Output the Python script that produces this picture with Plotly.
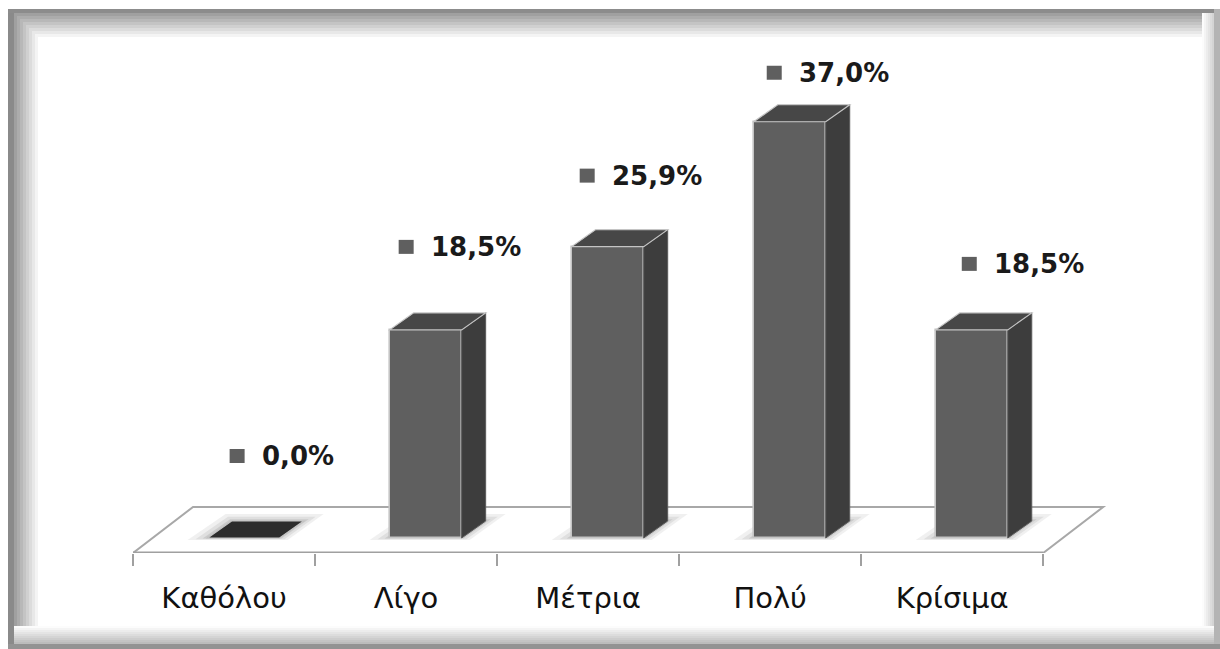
import plotly.graph_objects as go

# --- data -------------------------------------------------------------
categories = ["Καθόλου", "Λίγο", "Μέτρια", "Πολύ", "Κρίσιμα"]
values = [0.0, 18.5, 25.9, 37.0, 18.5]

# --- canvas / geometry ------------------------------------------------
FIG_W, FIG_H = 1220, 649
M_L, M_R, M_T, M_B = 133, 104, 40, 96
X_RANGE = [-0.5, 4.9]
PLOT_W = FIG_W - M_L - M_R
PLOT_H = FIG_H - M_T - M_B
PX_PER_CAT = PLOT_W / (X_RANGE[1] - X_RANGE[0])
PX_PER_PCT = 11.25
Y_MIN = -15 / PX_PER_PCT                  # floor front edge sits below the bar bases
Y_RANGE = [Y_MIN, Y_MIN + PLOT_H / PX_PER_PCT]

BAR_W = 72 / PX_PER_CAT                   # front face width
BAR_SHIFT = 19.6 / PX_PER_CAT             # bars sit a little way back on the floor
BAR_OFFSET = BAR_SHIFT - BAR_W / 2
DEPTH_X = 24 / PX_PER_CAT                 # bar depth (oblique projection)
DEPTH_Y = 17 / PX_PER_PCT
FLOOR_DX = 60 / PX_PER_CAT                # floor depth
FLOOR_DY = 46 / PX_PER_PCT

FRONT = "#5f5f5f"
SIDE = "#3d3d3d"
TOP = "#474747"
TOP_ZERO = "#2c2c2c"
EDGE = "#c4c4c4"

# data-label placement tweaks (pixels, relative to the bar's front-top centre)
label_dx_px = [19, 6, 5, 10, 23]
label_dy_px = [82, 83, 71, 49, 66]


def poly(pts):
    return "M " + " L ".join(f"{x:.4f},{y:.4f}" for x, y in pts) + " Z"


def px_x(p):
    return (p - M_L) / PLOT_W


def px_y(p):
    return (FIG_H - M_B - p) / PLOT_H


fig = go.Figure()

fig.add_trace(go.Bar(
    x=categories, y=values,
    width=BAR_W, offset=BAR_OFFSET,
    marker=dict(color=FRONT, line=dict(color=EDGE, width=1.6)),
    hoverinfo="x+y",
))

shapes = []

# floor
shapes.append(dict(
    type="path", layer="below", xref="x", yref="y",
    path=poly([(-0.5, Y_MIN), (4.5, Y_MIN), (4.5 + FLOOR_DX, Y_MIN + FLOOR_DY),
               (-0.5 + FLOOR_DX, Y_MIN + FLOOR_DY)]),
    fillcolor="white", line=dict(color="#a8a8a8", width=2),
))
shapes.append(dict(
    type="line", layer="below", xref="x", yref="y",
    x0=-0.5, x1=4.5, y0=Y_MIN, y1=Y_MIN,
    line=dict(color="#a0a0a0", width=3),
))

# soft shadows under each bar
for i, v in enumerate(values):
    x0 = i + BAR_OFFSET
    x1 = x0 + BAR_W
    for grow, op in [(20, 0.10), (12, 0.13), (5, 0.18)]:
        gx = grow / PX_PER_CAT
        gy = grow * 0.35 / PX_PER_PCT
        shapes.append(dict(
            type="path", layer="below", xref="x", yref="y",
            path=poly([(x0 - gx, -gy * 0.3), (x1 + gx * 0.4, -gy * 0.3),
                       (x1 + DEPTH_X + gx, DEPTH_Y + gy), (x0 + DEPTH_X - gx * 0.3, DEPTH_Y + gy)]),
            fillcolor="#707070", opacity=op, line=dict(width=0),
        ))

# side and top faces
for i, v in enumerate(values):
    x0 = i + BAR_OFFSET
    x1 = x0 + BAR_W
    if v > 0:
        shapes.append(dict(
            type="path", xref="x", yref="y",
            path=poly([(x1, 0), (x1, v), (x1 + DEPTH_X, v + DEPTH_Y), (x1 + DEPTH_X, DEPTH_Y)]),
            fillcolor=SIDE, line=dict(color="#5a5a5a", width=1),
        ))
    shapes.append(dict(
        type="path", xref="x", yref="y",
        path=poly([(x0, v), (x1, v), (x1 + DEPTH_X, v + DEPTH_Y), (x0 + DEPTH_X, v + DEPTH_Y)]),
        fillcolor=TOP if v > 0 else TOP_ZERO, line=dict(color=EDGE, width=1.2),
    ))

# data labels: small key square + value text
annotations = []
for i, v in enumerate(values):
    cx = i + BAR_SHIFT
    tx = label_dx_px[i]
    ty = label_dy_px[i]
    annotations.append(dict(
        x=cx, y=v, xref="x", yref="y",
        text=f"{v:.1f}".replace(".", ",") + "%",
        showarrow=False, xanchor="left", yanchor="middle",
        xshift=tx - 3, yshift=ty,
        font=dict(family="DejaVu Sans", size=26, color="#1a1a1a", weight="bold"),
    ))
    shapes.append(dict(
        type="rect", xref="x", yref="y",
        xsizemode="pixel", ysizemode="pixel", xanchor=cx, yanchor=v,
        x0=tx - 33, x1=tx - 18, y0=ty - 7, y1=ty + 7,
        fillcolor="#5f5f5f", line=dict(width=0),
    ))

# chart-area frame with an inner shadow
def band(x0, x1, y0, y1, color):
    shapes.append(dict(
        type="rect", xref="paper", yref="paper", layer="above",
        x0=px_x(x0), x1=px_x(x1), y0=px_y(y0), y1=px_y(y1),
        fillcolor=color, line=dict(width=0),
    ))

# left edge
band(8, 14, 9, FIG_H, "#8a8a8a")
for k, g in enumerate(range(160, 256, 12)):
    band(14 + k * 3, 17 + k * 3, 14, FIG_H, f"rgb({g},{g},{g})")
# top edge
band(8, FIG_W, 9, 13, "#8c8c8c")
for k, g in enumerate(range(160, 256, 12)):
    band(14 + k * 3, FIG_W - 6, 13 + k * 3, 16 + k * 3, f"rgb({g},{g},{g})")
# right edge
for k, g in enumerate(range(252, 205, -8)):
    band(1202 + k * 2, 1204 + k * 2, 13, FIG_H, f"rgb({g},{g},{g})")
band(1214, FIG_W, 9, FIG_H, "#b4b4b4")
# bottom edge
for k, g in enumerate(range(252, 180, -8)):
    band(14, 1214, 626 + k * 2, 628 + k * 2, f"rgb({g},{g},{g})")
band(8, FIG_W, 644, FIG_H, "#939393")

fig.update_layout(
    width=FIG_W, height=FIG_H,
    margin=dict(l=M_L, r=M_R, t=M_T, b=M_B),
    paper_bgcolor="white", plot_bgcolor="rgba(0,0,0,0)",
    showlegend=False, bargap=0,
    shapes=shapes, annotations=annotations,
    xaxis=dict(
        type="category", range=X_RANGE, tickson="boundaries",
        ticks="outside", ticklen=12, tickwidth=2, tickcolor="#a0a0a0",
        showline=False, showgrid=False, zeroline=False,
        tickfont=dict(family="DejaVu Sans", size=29, color="#111111"),
        ticklabelstandoff=25,
    ),
    yaxis=dict(range=Y_RANGE, visible=False),
)

fig.write_html("out.html")
